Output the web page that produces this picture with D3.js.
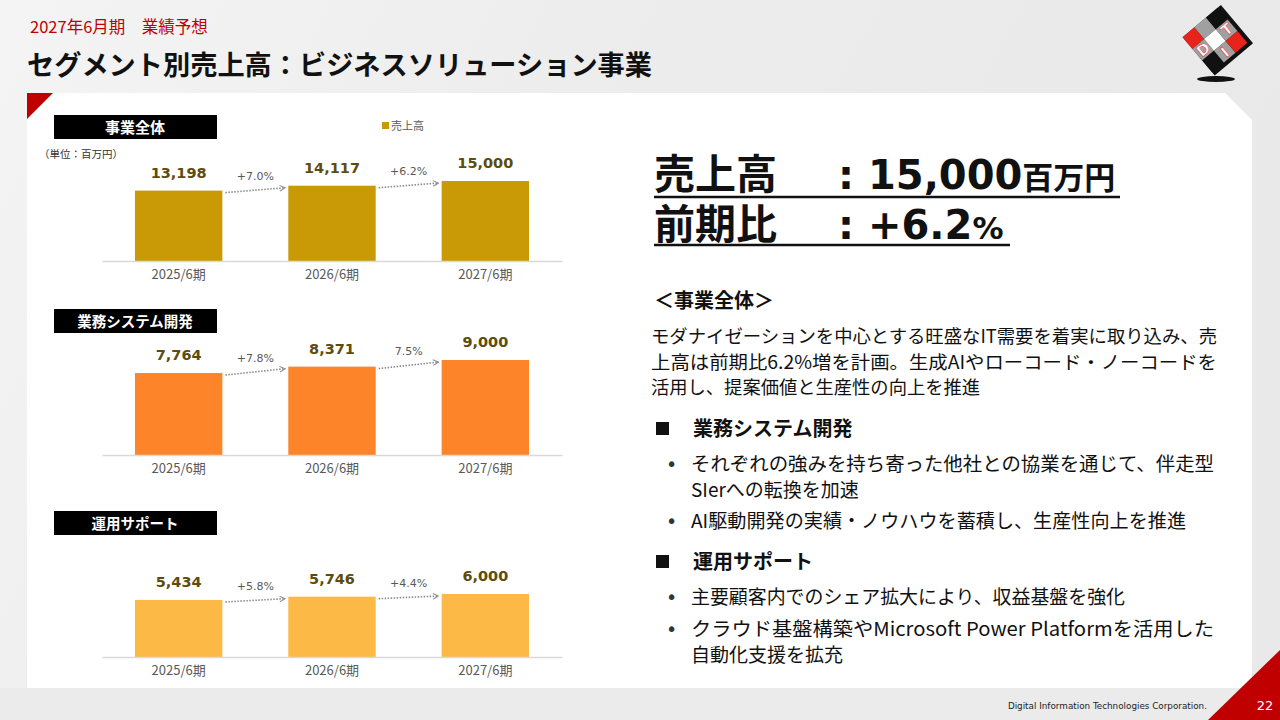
<!DOCTYPE html>
<html lang="ja">
<head>
<meta charset="UTF-8">
<title>セグメント別売上高：ビジネスソリューション事業</title>
<style>
  body { margin: 0; background: #ececec; }
  svg { display: block; font-family: "Noto Sans CJK JP", "Noto Sans", sans-serif; }
</style>
</head>
<body>
<svg id="svg" width="1280" height="720"></svg>

<script src="https://d3js.org/d3.v7.min.js"></script>
<script>
// ---- data ----
const periods = ['2025/6期', '2026/6期', '2027/6期']
const totalSales = [13198, 14117, 15000]
const sysDevSales = [7764, 8371, 9000]
const opsSales = [5434, 5746, 6000]
const totalGrowth = ['+7.0%', '+6.2%']
const sysDevGrowth = ['+7.8%', '7.5%']
const opsGrowth = ['+5.8%', '+4.4%']
const panelTitles = ['事業全体', '業務システム開発', '運用サポート']
const legendLabel = '売上高'
const unitLabel = '（単位：百万円）'

const svg = d3.select('#svg')
const defs = svg.append('defs')

// background
const bg = defs.append('linearGradient').attr('id', 'bg')
  .attr('x1', 0).attr('y1', 0).attr('x2', 1).attr('y2', 0.3)
bg.append('stop').attr('offset', 0).attr('stop-color', '#f4f4f4')
bg.append('stop').attr('offset', 0.5).attr('stop-color', '#ececec')
bg.append('stop').attr('offset', 1).attr('stop-color', '#e9e9e9')
svg.append('rect').attr('width', 1280).attr('height', 720).attr('fill', 'url(#bg)')

// white panel with cut corner
svg.append('path')
  .attr('d', 'M27,93 H1225 L1252,120 V688 H27 Z')
  .attr('fill', '#ffffff')
svg.append('path').attr('d', 'M27,93 H53 L27,119 Z').attr('fill', '#c00000')

// footer
svg.append('rect').attr('x', 0).attr('y', 688).attr('width', 1280).attr('height', 32).attr('fill', '#ebebeb')
svg.append('path').attr('d', 'M1208,720 L1280,650 V720 Z').attr('fill', '#c00000')
svg.append('text').attr('x', 1265).attr('y', 710).attr('text-anchor', 'middle')
  .attr('fill', '#fff').attr('font-size', 13).attr('font-family', 'DejaVu Sans')
  .text('22')
svg.append('text').attr('x', 1207).attr('y', 709).attr('text-anchor', 'end')
  .attr('fill', '#222').attr('font-size', 8.8).attr('font-family', 'DejaVu Sans')
  .text('Digital Information Technologies Corporation.')

// header
svg.append('text').attr('x', 30).attr('y', 33)
  .attr('fill', '#c00000').attr('font-size', 16.5)
  .text('2027年6月期　業績予想')
svg.append('text').attr('x', 27).attr('y', 75)
  .attr('fill', '#111').attr('font-size', 27).attr('font-weight', 'bold')
  .attr('textLength', 625).attr('lengthAdjust', 'spacingAndGlyphs')
  .text('セグメント別売上高：ビジネスソリューション事業')

// logo (rough cube, drawn as a tilted grid)
svg.append('ellipse').attr('cx', 1216).attr('cy', 79).attr('rx', 19).attr('ry', 3).attr('fill', '#111')
const ang = -40 * Math.PI / 180
const lc = [1215, 40]
const rot = ([x, y]) => [lc[0] + x * Math.cos(ang) - y * Math.sin(ang), lc[1] + x * Math.sin(ang) + y * Math.cos(ang)]
const quad = (x, y, w, h) => [[x, y], [x + w, y], [x + w, y + h], [x, y + h]].map(rot).join(' ')
svg.append('polygon').attr('points', quad(-23, -23, 50, 50)).attr('fill', '#111')
const cell = 15.3
const cellColors = [['#e8231c', '#a0a0a0', '#111'], ['#a0a0a0', '#fff', '#a0a0a0'], ['#111', '#a0a0a0', '#e8231c']]
cellColors.forEach((row, r) => row.forEach((c, k) => {
  svg.append('polygon').attr('points', quad(-23 + k * cell, -23 + r * cell, cell, cell)).attr('fill', c)
}))
const letters = [['D', -15, 5], ['I', 0, 21], ['T', 16, 5]]
letters.forEach(([t, x, y]) => {
  const [px, py] = rot([x, y])
  svg.append('text').attr('x', px).attr('y', py).attr('text-anchor', 'middle')
    .attr('transform', `rotate(-40,${px},${py})`)
    .attr('font-size', 15).attr('font-weight', 'bold').attr('fill', '#fff')
    .attr('font-family', 'DejaVu Sans').attr('stroke', '#e8231c').attr('stroke-width', 0.5)
    .text(t)
})

// ---- bar panels ----
const xScale = d3.scaleBand()
  .domain(periods)
  .range([102, 562])
  .paddingInner(0.43)
  .paddingOuter(0.215)

defs.append('marker').attr('id', 'arrow')
  .attr('viewBox', '0 0 10 10').attr('refX', 9).attr('refY', 5)
  .attr('markerWidth', 7).attr('markerHeight', 7).attr('orient', 'auto')
  .attr('markerUnits', 'userSpaceOnUse')
  .append('path').attr('d', 'M1,1 L9,5 L1,9').attr('fill', 'none')
  .attr('stroke', '#8a8a8a').attr('stroke-width', 1.4)

const panels = [
  { title: panelTitles[0], values: totalSales, growth: totalGrowth, color: '#c99a06', base: 261, maxH: 80, boxY: 115, titleSize: 15 },
  { title: panelTitles[1], values: sysDevSales, growth: sysDevGrowth, color: '#fd8428', base: 455, maxH: 95, boxY: 309, titleSize: 14.5 },
  { title: panelTitles[2], values: opsSales, growth: opsGrowth, color: '#fdb946', base: 657, maxH: 63, boxY: 511, titleSize: 14.5 }
]

panels.forEach(p => {
  const g = svg.append('g')
  const yScale = d3.scaleLinear()
    .domain([0, d3.max(p.values)])
    .range([p.base, p.base - p.maxH])

  // title box
  g.append('rect').attr('x', 54).attr('y', p.boxY).attr('width', 163).attr('height', 24).attr('fill', '#000')
  g.append('text').attr('x', 135).attr('y', p.boxY + 17.5).attr('text-anchor', 'middle')
    .attr('fill', '#fff').attr('font-size', p.titleSize).attr('font-weight', 'bold')
    .text(p.title)

  // bars
  g.selectAll('rect.bar')
    .data(p.values)
    .enter()
    .append('rect')
    .attr('class', 'bar')
    .attr('x', (d, i) => xScale(periods[i]))
    .attr('y', d => yScale(d))
    .attr('width', xScale.bandwidth())
    .attr('height', d => p.base - yScale(d))
    .attr('fill', p.color)

  // axis line + labels
  const axis = d3.axisBottom(xScale).tickSize(0).tickPadding(9)
  const ax = g.append('g').attr('transform', `translate(0,${p.base})`).call(axis)
  ax.select('.domain').attr('stroke', '#d9d9d9').attr('stroke-width', 1.5)
  ax.selectAll('text').attr('font-size', 13).attr('fill', '#595959')
    .attr('font-family', '"Noto Sans CJK JP", sans-serif')

  // value labels
  g.selectAll('text.val')
    .data(p.values)
    .enter()
    .append('text')
    .attr('class', 'val')
    .attr('x', (d, i) => xScale(periods[i]) + xScale.bandwidth() / 2)
    .attr('y', d => yScale(d) - 13)
    .attr('text-anchor', 'middle')
    .attr('font-family', 'DejaVu Sans')
    .attr('font-weight', 'bold')
    .attr('font-size', 14.5)
    .attr('fill', '#5e4c0c')
    .text(d => d3.format(',')(d))

  // growth arrows
  p.growth.forEach((lab, i) => {
    const x0 = xScale(periods[i]) + xScale.bandwidth() + 3
    const x1 = xScale(periods[i + 1]) - 3
    const y0 = yScale(p.values[i]) + 2
    const y1 = yScale(p.values[i + 1]) + 2
    g.append('line').attr('x1', x0).attr('y1', y0).attr('x2', x1).attr('y2', y1)
      .attr('stroke', '#8a8a8a').attr('stroke-width', 1.6)
      .attr('stroke-dasharray', '1.5,1.5').attr('marker-end', 'url(#arrow)')
    g.append('text').attr('x', (x0 + x1) / 2).attr('y', (y0 + y1) / 2 - 10)
      .attr('text-anchor', 'middle').attr('font-family', 'DejaVu Sans')
      .attr('font-size', 11).attr('fill', '#595959')
      .text(lab)
  })
})

// legend + unit
svg.append('rect').attr('x', 382).attr('y', 122).attr('width', 7).attr('height', 7).attr('fill', panels[0].color)
svg.append('text').attr('x', 391).attr('y', 130).attr('font-size', 11).attr('fill', '#595959').text(legendLabel)
svg.append('text').attr('x', 39).attr('y', 158).attr('font-size', 10.5).attr('fill', '#333').text(unitLabel)

// ---- right side text ----
const rt = svg.append('g').attr('fill', '#111')
const big = rt.append('text').attr('y', 189).attr('font-weight', 'bold')
big.append('tspan').attr('x', 654).attr('font-size', 41).text('売上高')
big.append('tspan').attr('x', 838).attr('font-size', 40).attr('font-family', 'DejaVu Sans').text(':')
big.append('tspan').attr('x', 868).attr('font-size', 40).attr('font-family', 'DejaVu Sans').text('15,000')
big.append('tspan').attr('font-size', 31).text('百万円')
rt.append('line').attr('x1', 654).attr('x2', 1120).attr('y1', 197).attr('y2', 197).attr('stroke', '#111').attr('stroke-width', 2.5)

const big2 = rt.append('text').attr('y', 239).attr('font-weight', 'bold')
big2.append('tspan').attr('x', 654).attr('font-size', 41).text('前期比')
big2.append('tspan').attr('x', 838).attr('font-size', 40).attr('font-family', 'DejaVu Sans').text(':')
big2.append('tspan').attr('x', 868).attr('font-size', 40).attr('font-family', 'DejaVu Sans').text('+6.2')
big2.append('tspan').attr('font-size', 31).attr('font-family', 'DejaVu Sans').text('%')
rt.append('line').attr('x1', 654).attr('x2', 1010).attr('y1', 245).attr('y2', 245).attr('stroke', '#111').attr('stroke-width', 2.5)

rt.append('text').attr('x', 654).attr('y', 308).attr('font-size', 20).attr('font-weight', 'bold').text('＜事業全体＞')

const para = [
  'モダナイゼーションを中心とする旺盛なIT需要を着実に取り込み、売',
  '上高は前期比6.2%増を計画。生成AIやローコード・ノーコードを',
  '活用し、提案価値と生産性の向上を推進'
]
para.forEach((l, i) => {
  rt.append('text').attr('x', 651).attr('y', 343 + i * 25.5).attr('font-size', 18.3)
    .attr('textLength', i < 2 ? 566 : null).attr('lengthAdjust', 'spacingAndGlyphs')
    .text(l)
})

const sections = [
  { head: '業務システム開発', y: 436, items: [
    { lines: ['それぞれの強みを持ち寄った他社との協業を通じて、伴走型', 'SIerへの転換を加速'], widths: [523, null], y: 471 },
    { lines: ['AI駆動開発の実績・ノウハウを蓄積し、生産性向上を推進'], widths: [495], y: 528 }
  ] },
  { head: '運用サポート', y: 569, items: [
    { lines: ['主要顧客内でのシェア拡大により、収益基盤を強化'], widths: [434], y: 604 },
    { lines: ['クラウド基盤構築やMicrosoft Power Platformを活用した', '自動化支援を拡充'], widths: [523, null], y: 636 }
  ] }
]
sections.forEach(s => {
  rt.append('rect').attr('x', 656).attr('y', s.y - 14).attr('width', 13).attr('height', 13)
  rt.append('text').attr('x', 693).attr('y', s.y).attr('font-size', 20).attr('font-weight', 'bold').text(s.head)
  s.items.forEach(it => {
    rt.append('text').attr('x', 666).attr('y', it.y).attr('font-size', 19).attr('fill', '#333')
      .attr('font-family', 'DejaVu Sans').text('•')
    it.lines.forEach((l, j) => {
      rt.append('text').attr('x', 691).attr('y', it.y + j * 25.5).attr('font-size', 19)
        .attr('textLength', it.widths[j]).attr('lengthAdjust', 'spacingAndGlyphs')
        .text(l)
    })
  })
})
</script>
</body>
</html>
